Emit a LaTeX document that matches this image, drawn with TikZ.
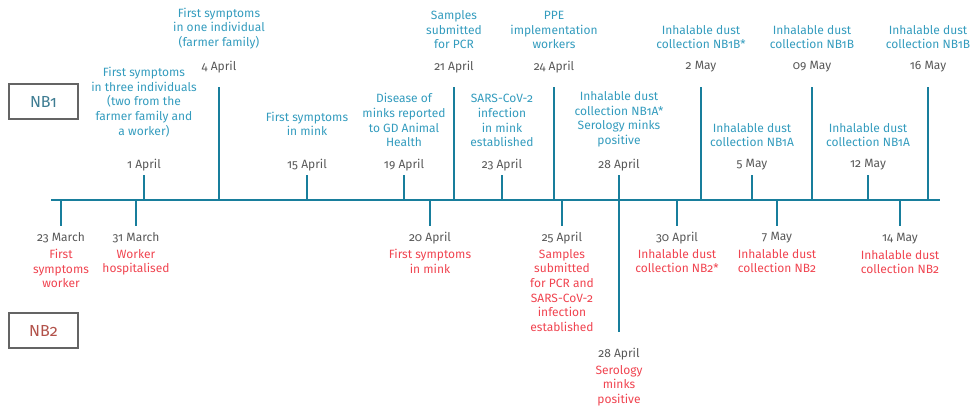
\documentclass[tikz,border=0pt]{standalone}
\usepackage{fontspec}
\setmainfont{Fira Sans}[Numbers=OldStyle]
\usepackage{xcolor}
\usepackage{tikz}
\usetikzlibrary{positioning}
\definecolor{axisteal}{RGB}{24,126,156}
\definecolor{labelblue}{RGB}{52,156,190}
\definecolor{labelred}{RGB}{240,68,80}
\definecolor{dategray}{RGB}{88,88,88}
\definecolor{boxgray}{RGB}{100,100,100}
\definecolor{nbone}{RGB}{62,124,146}
\definecolor{nbtwo}{RGB}{178,82,74}
\newcommand{\evfont}{\fontsize{12}{14.6}\selectfont}

\begin{document}
\begin{tikzpicture}[x=1pt,y=-1pt,
  axis/.style={draw=axisteal,line width=2.6pt},
  tick/.style={draw=axisteal,line width=2.4pt},
  datum/.style={text=dategray,inner sep=0pt,font=\evfont},
  upper/.style={text=labelblue,align=center,inner sep=0pt,font=\evfont,anchor=south},
  lower/.style={text=labelred,align=center,inner sep=0pt,font=\evfont,anchor=north},
  nbbox/.style={draw=boxgray,line width=1.6pt,minimum width=69pt,minimum height=35pt,inner sep=0pt,font=\fontsize{16}{18}\selectfont}]

\useasboundingbox (0,0) rectangle (971,417);

\node[nbbox,text=nbone] (nbA) at (43.5,101.5) {NB1};
\node[nbbox,text=nbtwo] (nbB) at (43.5,330.5) {NB2};

\coordinate (axisL) at (51,200);
\coordinate (axisR) at (940,200);
\draw[axis] (axisL) -- (axisR);

% NB1 above the axis
\foreach \name/\x/\top/\dy/\ly/\date/\txt in {
  fsthree/144/175/165/137/1 April/{First symptoms\\in three individuals\\(two from the\\farmer family and\\a worker)},
  fsone/219/87/67/49/4 April/{First symptoms\\in one individual\\(farmer family)},
  fsmink/307/175/165/136/15 April/{First symptoms\\in mink},
  report/404/175/165/147/19 April/{Disease of\\minks reported\\to GD Animal\\Health},
  pcr/454/87/67/49/21 April/{Samples\\submitted\\for PCR},
  sars/502/175/165/147/23 April/{SARS-CoV-2\\infection\\in mink\\established},
  ppe/554/87/67/49/24 April/{PPE\\implementation\\workers},
  dustA/619/175/165/147/28 April/{Inhalable dust\\collection NB1A*\\Serology minks\\positive},
  dustB/701/87/67/49/2 May/{Inhalable dust\\collection NB1B*},
  dustC/752/175/165/147/5 May/{Inhalable dust\\collection NB1A},
  dustD/812/87/67/49/09 May/{Inhalable dust\\collection NB1B},
  dustE/868/175/165/147/12 May/{Inhalable dust\\collection NB1A},
  dustF/928/87/67/49/16 May/{Inhalable dust\\collection NB1B}}{
  \coordinate (\name-foot) at (\x,200);
  \coordinate (\name-end) at (\x,\top);
  \draw[tick] (\name-foot) -- (\name-end);
  \node[datum] (\name-date) at (\x,\dy) {\date};
  \node[upper] (\name-text) at (\x,\ly) {\txt};
}

% NB2 below the axis
\foreach \name/\x/\bot/\dy/\ly/\date/\txt in {
  symw/61/226/238/249/23 March/{First\\symptoms\\worker},
  hosp/136/226/238/249/31 March/{Worker\\hospitalised},
  minkB/430/226/238/249/20 April/{First symptoms\\in mink},
  pcrB/562/226/238/249/25 April/{Samples\\submitted\\for PCR and\\SARS-CoV-2\\infection\\established},
  sero/619/332/354/365/28 April/{Serology\\minks\\positive},
  dustG/677/226/238/249/30 April/{Inhalable dust\\collection NB2*},
  dustH/777/226/238/249/7 May/{Inhalable dust\\collection NB2},
  dustI/900/226/239/250/14 May/{Inhalable dust\\collection NB2}}{
  \coordinate (\name-foot) at (\x,200);
  \coordinate (\name-end) at (\x,\bot);
  \draw[tick] (\name-foot) -- (\name-end);
  \node[datum] (\name-date) at (\x,\dy) {\date};
  \node[lower] (\name-text) at (\x,\ly) {\txt};
}
\end{tikzpicture}
\end{document}
